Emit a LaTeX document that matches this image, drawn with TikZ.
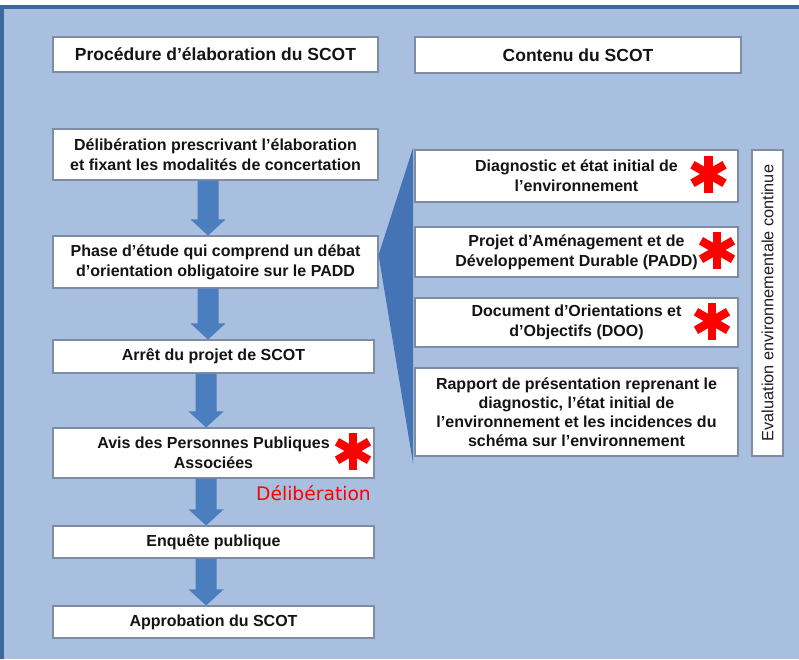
\documentclass[tikz,border=0pt]{standalone}
\usepackage{fontspec}
\setmainfont{Liberation Sans}
\newfontfamily\delibfont{DejaVu Sans}
\usetikzlibrary{calc,shadows}
\definecolor{bgblue}{HTML}{A8BFDF}
\definecolor{frameblue}{HTML}{3E679E}
\definecolor{arrowblue}{HTML}{4A7EBE}
\definecolor{wedgeblue}{HTML}{4474B5}
\definecolor{boxborder}{HTML}{7F8DA4}
\definecolor{starred}{HTML}{FF0000}
\tikzset{
  box/.style={draw=boxborder, line width=1.1pt, fill=white, inner sep=0pt,
    align=center, font=\bfseries\fontsize{16}{20}\selectfont, text=black!92,
    drop shadow={shadow xshift=1.2pt, shadow yshift=-1.2pt, opacity=0.25}},
  titlebox/.style={box, font=\bfseries\fontsize{17.5}{21}\selectfont},
  redstar/.pic={
    \foreach \a in {90,30,150}{
      \draw[starred, line width=8.5pt] (\a:-18.5pt) -- (\a:18.5pt);
    }
  }
}
\newcommand\blockarrow[2]{%
  \path ($(#1.south west)!0.477!(#1.south east)$) coordinate (as)
        ($(#2.north west)!0.477!(#2.north east)$) coordinate (ae);
  \fill[arrowblue] let \p1=(as), \p2=(ae) in
    (\x1-10.5pt,\y1) -- (\x1-10.5pt,\y2+16pt) -- (\x1-17.5pt,\y2+16pt) --
    (\x1,\y2) -- (\x1+17.5pt,\y2+16pt) -- (\x1+10.5pt,\y2+16pt) --
    (\x1+10.5pt,\y1) -- cycle;
}
\begin{document}
\begin{tikzpicture}[x=1pt,y=-1pt]
\path[use as bounding box] (0,0) rectangle (799,659);
% background
\fill[bgblue] (0,5) rectangle (799,659);
\fill[frameblue] (0,5) rectangle (799,8.5);
\fill[frameblue] (0,5) rectangle (4,659);
\fill[white] (0,0) rectangle (799,5);

% titles
\node[titlebox, minimum width=325pt, minimum height=35pt] (t1) at (215.5,54.5) {Procédure d’élaboration du SCOT};
\node[titlebox, minimum width=326pt, minimum height=36pt] (t2) at (578,55) {Contenu du SCOT};

% left column
\node[box, minimum width=325pt, minimum height=51pt] (p1) at (215.5,154.5) {Délibération prescrivant l’élaboration\\et fixant les modalités de concertation};
\node[box, minimum width=325pt, minimum height=52pt] (p2) at (215.5,262) {Phase d’étude qui comprend un débat\\d’orientation obligatoire sur le PADD};
\node[box, minimum width=321pt, minimum height=33pt] (p3) at (213.5,356.5) {Arrêt du projet de SCOT};
\node[box, minimum width=321pt, minimum height=50pt] (p4) at (213.5,453) {Avis des Personnes Publiques\\Associées};
\node[box, minimum width=321pt, minimum height=32pt] (p5) at (213.5,542) {Enquête publique};
\node[box, minimum width=321pt, minimum height=32pt] (p6) at (213.5,622) {Approbation du SCOT};

\blockarrow{p1}{p2}
\blockarrow{p2}{p3}
\blockarrow{p3}{p4}
\blockarrow{p4}{p5}
\blockarrow{p5}{p6}

\node[text=starred, font=\delibfont\fontsize{18.7}{20}\selectfont, anchor=center] (delib) at (313.5,493) {Délibération};

% wedge
\coordinate (wtop) at (413,148);
\coordinate (wbot) at (413,463);
\fill[wedgeblue] ($(p2.east)+(0,-7)$) -- (wtop) -- (wbot) -- cycle;

% right column
\node[box, minimum width=323pt, minimum height=52pt] (c1) at (576.5,176) {Diagnostic et état initial de\\l’environnement};
\node[box, minimum width=323pt, minimum height=50pt] (c2) at (576.5,252) {Projet d’Aménagement et de\\Développement Durable (PADD)};
\node[box, minimum width=323pt, minimum height=49pt] (c3) at (576.5,322.5) {Document d’Orientations et\\d’Objectifs (DOO)};
\node[box, minimum width=323pt, minimum height=88pt, font=\bfseries\fontsize{16}{19}\selectfont] (c4) at (576.5,412) {Rapport de présentation reprenant le\\diagnostic, l’état initial de\\l’environnement et les incidences du\\schéma sur l’environnement};
\node[box, minimum width=31pt, minimum height=306pt] (ev) at (767.5,303) {};
\node[rotate=90, font=\fontsize{16.3}{18}\selectfont, text=black!88] (evtext) at (ev.center) {Evaluation environnementale continue};

% stars
\pic at (708.5,174) {redstar};
\pic at (717,250) {redstar};
\pic at (712,321) {redstar};
\pic at (353,451) {redstar};
\end{tikzpicture}
\end{document}
